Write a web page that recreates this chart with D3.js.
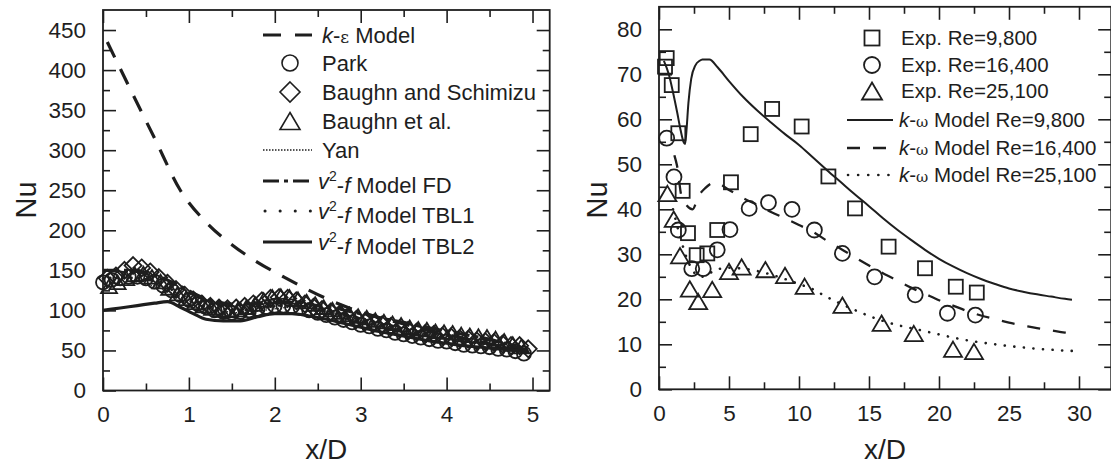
<!DOCTYPE html>
<html><head><meta charset="utf-8">
<script src="https://cdn.jsdelivr.net/npm/d3@7"></script>
<style>
body{margin:0;background:#fff}
svg text{font-family:"Liberation Sans",Arial,sans-serif;fill:#1e1e1e}
</style></head><body>
<svg id="c" width="1111" height="466"></svg>
<script>
// ---------------- LEFT CHART DATA ----------------
const keX = [0.05,0.3,0.6,0.9,1.2,1.5,1.8,2.1,2.4,2.7,3.0,3.5,4.0,4.5,4.9];
const keY = [435,380,315,250,210,182,160,142,125,110,98,83,70,58,50];

const parkX = [0,0.1,0.2,0.3,0.4,0.5,0.6,0.7,0.8,0.9,1.0,1.1,1.2,1.3,1.4,1.5,1.6,1.7,1.8,1.9,2.0,2.1,2.2,2.3,2.4,2.5,2.6,2.7,2.8,2.9,3.0,3.1,3.2,3.3,3.4,3.5,3.6,3.7,3.8,3.9,4.0,4.1,4.2,4.3,4.4,4.5,4.6,4.7,4.8,4.9];
const parkY = [135,138,140,142,142,140,136,131,125,119,113,108,104,100,98,97,98,100,102,104,106,106,105,103,100,97,94,91,88,85,82,80,77,75,72,70,68,66,64,62,61,59,57,56,55,54,52,51,49,46];

const bsX = [0.05,0.15,0.25,0.35,0.45,0.55,0.65,0.75,0.85,0.95,1.05,1.15,1.25,1.35,1.45,1.55,1.65,1.75,1.85,1.95,2.05,2.15,2.25,2.35,2.45,2.55,2.65,2.75,2.85,2.95,3.05,3.15,3.25,3.35,3.45,3.55,3.65,3.75,3.85,3.95,4.05,4.15,4.25,4.35,4.45,4.55,4.65,4.75,4.85,4.95];
const bsY = [140,143,150,156,153,148,141,134,126,119,113,108,105,103,102,103,105,108,112,115,116,115,112,108,104,101,98,95,92,89,86,84,82,80,77,75,73,71,70,68,67,65,64,62,61,60,58,56,56,52];

const beX = [0.07,0.17,0.27,0.37,0.47,0.57,0.67,0.77,0.87,0.97,1.07,1.17,1.27,1.37,1.47,1.57,1.67,1.77,1.87,1.97,2.07,2.17,2.27,2.37,2.47,2.57,2.67,2.77,2.87,2.97,3.07,3.17,3.27,3.37,3.47,3.57,3.67,3.77,3.87,3.97,4.07,4.17,4.27,4.37,4.47,4.57,4.67,4.77,4.87];
const beY = [130,135,140,145,146,142,136,128,121,115,110,106,103,101,100,101,104,108,113,117,118,117,114,111,108,104,101,98,95,93,91,88,86,84,82,79,77,76,74,73,72,70,69,68,67,65,62,58,55];

const yanX = [0,0.2,0.4,0.6,0.8,1.0,1.2,1.4,1.6,1.8,2.0,2.2,2.4,2.6,2.8,3.0,3.2,3.4,3.6,3.8,4.0,4.2,4.4,4.6,4.8,4.95];
const yanY = [128,132,134,130,122,112,104,99,97,99,102,104,103,99,94,88,83,78,74,70,66,62,58,55,52,49];

const fdX = [0,0.3,0.5,0.7,0.9,1.1,1.3,1.5,1.7,1.9,2.1,2.3,2.5,2.7,2.9,3.1,3.3,3.5,3.7,3.9,4.1,4.3,4.5,4.7,4.95];
const fdY = [150,150,146,140,130,119,111,108,108,109,110,109,106,103,98,94,89,85,80,76,72,68,64,58,50];

const tbl1X = [0,0.2,0.4,0.6,0.8,1.0,1.2,1.4,1.6,1.8,2.0,2.2,2.4,2.6,2.8,3.0,3.2,3.4,3.6,3.8,4.0,4.2,4.4,4.6,4.8,4.95];
const tbl1Y = [140,141,140,136,126,115,106,101,100,102,105,106,104,100,95,90,85,80,76,72,68,64,60,56,52,49];

const tbl2X = [0,0.2,0.4,0.6,0.75,0.9,1.05,1.2,1.4,1.6,1.8,2.0,2.2,2.4,2.6,2.8,3.0,3.2,3.4,3.6,3.8,4.0,4.2,4.4,4.6,4.8,4.95];
const tbl2Y = [100,103,106,109,111,104,96,89,87,87,92,96,96,93,89,84,79,74,70,66,62,59,56,54,52,50,48];

const leftXTicks = [0,1,2,3,4,5];
const leftXMinor = [0.5,1.5,2.5,3.5,4.5];
const leftYTicks = [0,50,100,150,200,250,300,350,400,450];
const leftYMinor = [25,75,125,175,225,275,325,375,425];

// ---------------- RIGHT CHART DATA ----------------
const sqX = [0.43,0.55,0.91,1.38,1.69,2.07,2.69,3.45,4.16,5.14,6.55,8.08,10.19,12.1,14.0,16.4,19.0,21.2,22.7];
const sqY = [71.7,73.6,67.6,56.9,44.1,34.7,29.8,30.2,35.4,46.0,56.7,62.3,58.4,47.3,40.2,31.7,26.9,22.8,21.5];

const ciX = [0.55,1.07,1.38,2.34,3.16,4.16,5.07,6.44,7.82,9.5,11.1,13.1,15.4,18.3,20.6,22.6];
const ciY = [55.8,47.2,35.4,26.8,26.8,31.0,35.5,40.2,41.5,40.0,35.4,30.2,25.0,21.0,16.9,16.5];

const trX = [0.6,1.05,1.5,2.2,2.8,3.8,5.0,5.9,7.6,9.0,10.4,13.1,15.9,18.2,21.0,22.5];
const trY = [43.5,37.8,29.7,22.3,19.5,22.2,26.2,27.2,26.6,25.3,22.9,18.7,14.7,12.4,8.9,8.4];

const kw98X = [0.35,0.7,1.0,1.3,1.55,1.75,1.86,1.95,2.1,2.3,2.6,2.9,3.1,3.6,4.2,5,6,7,8,9,10,11,12,13,14,15,16,17,18,19,20,21,22,23,24,25,26,27,28,29,29.5];
const kw98Y = [73,70,66,61.5,57.5,55,54.5,57,63.6,69,72,73,73.3,73.3,71.5,68.5,65,62,59.3,56.7,54.3,51.5,48.7,46,43.3,40.7,38,35.5,33.2,31,29,27.3,25.8,24.5,23.4,22.4,21.7,21.1,20.6,20.1,19.9];

const kw164X = [1.1,1.3,1.6,2.0,2.4,2.8,3.3,4.0,5,6,7,8,9,10,11,12,13,14,15,16,17,18,19,20,21,22,23,24,25,26,27,28,29,29.7];
const kw164Y = [52,49.5,43,40.8,40,42.8,44.7,46,44.3,42.5,41,39.4,38,36.5,35,33,31.2,29.3,27.5,25.8,24.2,22.6,21.2,19.8,18.6,17.4,16.4,15.6,14.8,14.2,13.6,13.1,12.6,12.4];

const kw251X = [1.0,1.5,2.0,2.5,3.0,3.5,4.0,5,6,7,8,9,10,11,12,13,14,15,16,17,18,19,20,21,22,23,24,25,26,27,28,29,29.7];
const kw251Y = [40,34,29,26,25,25.5,26.5,27,26.8,26.3,25.5,24.5,23.4,22.2,20.5,19,17.6,16.3,15.2,14.3,13.6,12.9,12.2,11.5,10.9,10.4,10,9.6,9.3,9,8.8,8.6,8.5];

const rightXTicks = [0,5,10,15,20,25,30];
const rightXMinor = [2.5,7.5,12.5,17.5,22.5,27.5];
const rightYTicks = [0,10,20,30,40,50,60,70,80];
const rightYMinor = [5,15,25,35,45,55,65,75];

// ---------------- DRAWING ----------------
const svg = d3.select('#c');
const INK = '#1e1e1e';

const xL = d3.scaleLinear([0,5.2],[103,549.7]);
const yL = d3.scaleLinear([0,475],[390.5,10]);
const xR = d3.scaleLinear([0,32.3],[659,1111.2]);
const yR = d3.scaleLinear([0,85],[389.3,6.8]);

function frame(x, y, xMaj, xMin, yMaj, yMin){
  const [x0,x1] = x.range(), [yb,yt] = y.range();
  const g = svg.append('g');
  const style = s => { s.select('.domain').remove(); s.selectAll('line').attr('stroke',INK).attr('stroke-width',1.6); s.selectAll('text').attr('font-size',22.5).attr('fill',INK).attr('font-family','"Liberation Sans",Arial,sans-serif'); };
  g.append('g').attr('transform',`translate(0,${yb})`).call(d3.axisBottom(x).tickValues(xMaj).tickSize(-13).tickPadding(16).tickFormat(d3.format('d'))).call(style);
  g.append('g').attr('transform',`translate(0,${yb})`).call(d3.axisBottom(x).tickValues(xMin).tickSize(-7).tickFormat('')).call(style);
  g.append('g').attr('transform',`translate(0,${yt})`).call(d3.axisTop(x).tickValues(xMaj).tickSize(-13).tickFormat('')).call(style);
  g.append('g').attr('transform',`translate(0,${yt})`).call(d3.axisTop(x).tickValues(xMin).tickSize(-7).tickFormat('')).call(style);
  g.append('g').attr('transform',`translate(${x0},0)`).call(d3.axisLeft(y).tickValues(yMaj).tickSize(-13).tickPadding(17).tickFormat(d3.format('d'))).call(style);
  g.append('g').attr('transform',`translate(${x0},0)`).call(d3.axisLeft(y).tickValues(yMin).tickSize(-7).tickFormat('')).call(style);
  g.append('g').attr('transform',`translate(${x1},0)`).call(d3.axisRight(y).tickValues(yMaj).tickSize(-13).tickFormat('')).call(style);
  g.append('g').attr('transform',`translate(${x1},0)`).call(d3.axisRight(y).tickValues(yMin).tickSize(-7).tickFormat('')).call(style);
  g.append('rect').attr('x',x0).attr('y',yt).attr('width',x1-x0).attr('height',yb-yt)
    .attr('fill','none').attr('stroke',INK).attr('stroke-width',1.8);
}

function line(x, y, xs, ys, opts){
  const pts = xs.map((v,i)=>[v,ys[i]]);
  const gen = d3.line().x(d=>x(d[0])).y(d=>y(d[1])).curve(d3.curveMonotoneX);
  svg.append('path').attr('d',gen(pts)).attr('fill','none').attr('stroke',INK)
    .attr('stroke-width',opts.w).attr('stroke-dasharray',opts.dash||null)
    .attr('stroke-linecap',opts.cap||'butt');
}

function marker(g, type, cx, cy, s, sw){
  if(type==='circle'){
    g.append('circle').attr('cx',cx).attr('cy',cy).attr('r',s/2);
  } else if(type==='diamond'){
    const h = s/2;
    g.append('path').attr('d',`M${cx},${cy-h}L${cx+h},${cy}L${cx},${cy+h}L${cx-h},${cy}Z`);
  } else if(type==='triangle'){
    const w = s/2, h = s*0.85/2;
    g.append('path').attr('d',`M${cx},${cy-h}L${cx+w},${cy+h}L${cx-w},${cy+h}Z`);
  } else if(type==='square'){
    g.append('rect').attr('x',cx-s/2).attr('y',cy-s/2).attr('width',s).attr('height',s);
  }
  g.attr('fill','none').attr('stroke',INK).attr('stroke-width',sw);
}

function markers(x, y, xs, ys, type, s, sw){
  const g = svg.append('g');
  xs.forEach((v,i)=>marker(g,type,x(v),y(ys[i]),s,sw));
}

// ---- left chart ----
frame(xL, yL, leftXTicks, leftXMinor, leftYTicks, leftYMinor);
line(xL,yL,keX,keY,{w:3.2,dash:'17,13'});
line(xL,yL,yanX,yanY,{w:1.3,dash:'1.5,1.5'});
line(xL,yL,tbl1X,tbl1Y,{w:2.8,dash:'0.1,7',cap:'round'});
markers(xL,yL,parkX,parkY,'circle',14,1.8);
markers(xL,yL,bsX,bsY,'diamond',17,1.8);
markers(xL,yL,beX,beY,'triangle',16,1.8);
line(xL,yL,fdX,fdY,{w:3.2,dash:'16,5,4,5'});
line(xL,yL,tbl2X,tbl2Y,{w:3.2});

// left legend
const legL = svg.append('g');
const rowsL = [35,63,92,121,150,181,211,242];
const lx0 = 263, lx1 = 312, ltx = 322;
function lgLine(g, y, x0, x1, opts){
  g.append('line').attr('x1',x0).attr('x2',x1).attr('y1',y).attr('y2',y).attr('stroke',INK)
   .attr('stroke-width',opts.w).attr('stroke-dasharray',opts.dash||null).attr('stroke-linecap',opts.cap||'butt');
}
function lgText(g, y, x, parts, fs){
  const t = g.append('text').attr('x',x).attr('y',y).attr('dy','0.36em').attr('font-size',fs);
  parts.forEach(p=>{
    const s = t.append('tspan').text(p.t);
    if(p.i) s.attr('font-style','italic');
    if(p.f) s.attr('font-family',p.f);
    if(p.fs) s.attr('font-size',p.fs);
    if(p.dy) s.attr('dy',p.dy);
  });
}
lgLine(legL,rowsL[0],lx0,lx1,{w:3.2,dash:'18,14'});
lgText(legL,rowsL[0],ltx,[{t:'k',i:1},{t:'-'},{t:'ε',f:'"DejaVu Serif",serif',fs:17},{t:' Model'}],22);
marker(legL.append('g'),'circle',290,rowsL[1],16,1.6);
lgText(legL,rowsL[1],ltx,[{t:'Park'}],22);
marker(legL.append('g'),'diamond',290,rowsL[2],20,1.6);
lgText(legL,rowsL[2],ltx,[{t:'Baughn and Schimizu'}],22);
marker(legL.append('g'),'triangle',290,rowsL[3],20,1.6);
lgText(legL,rowsL[3],ltx,[{t:'Baughn et al.'}],22);
lgLine(legL,rowsL[4],lx0,lx1,{w:1.3,dash:'1.5,1.5'});
lgText(legL,rowsL[4],ltx,[{t:'Yan'}],22);
const v2 = tail => [{t:'v',i:1},{t:'2',fs:14,dy:'-0.55em'},{t:'-',dy:'0.55em'},{t:'f',i:1},{t:' Model '+tail}];
lgLine(legL,rowsL[5],lx0,lx1,{w:3,dash:'16,5,4,5'});
lgText(legL,rowsL[5],ltx-4,v2('FD'),22);
lgLine(legL,rowsL[6],lx0+2,lx1,{w:3,dash:'0.1,15',cap:'round'});
lgText(legL,rowsL[6],ltx-4,v2('TBL1'),22);
lgLine(legL,rowsL[7],lx0,lx1,{w:3});
lgText(legL,rowsL[7],ltx-4,v2('TBL2'),22);

// axis titles left
svg.append('text').attr('x',(103+549.7)/2).attr('y',459).attr('text-anchor','middle').attr('font-size',28).text('x/D');
svg.append('text').attr('transform','translate(36,200) rotate(-90)').attr('text-anchor','middle').attr('font-size',29).text('Nu');

// ---- right chart ----
frame(xR, yR, rightXTicks, rightXMinor, rightYTicks, rightYMinor);
line(xR,yR,kw98X,kw98Y,{w:2});
line(xR,yR,kw164X,kw164Y,{w:2.3,dash:'13,13'});
line(xR,yR,kw251X,kw251Y,{w:2.6,dash:'0.1,9.5',cap:'round'});
markers(xR,yR,sqX,sqY,'square',14,1.8);
markers(xR,yR,ciX,ciY,'circle',15,1.8);
markers(xR,yR,trX,trY,'triangle',18,1.8);

const legR = svg.append('g');
const rowsR = [38,65,91,120,148,175];
const rmx = 872, rtx = 901;
marker(legR.append('g'),'square',rmx,rowsR[0],15,1.8);
lgText(legR,rowsR[0],rtx,[{t:'Exp. Re=9,800'}],20.5);
marker(legR.append('g'),'circle',rmx,rowsR[1],16,1.8);
lgText(legR,rowsR[1],rtx,[{t:'Exp. Re=16,400'}],20.5);
marker(legR.append('g'),'triangle',rmx,rowsR[2],20,1.8);
lgText(legR,rowsR[2],rtx,[{t:'Exp. Re=25,100'}],20.5);
const kw = tail => [{t:'k',i:1},{t:'-'},{t:'ω',f:'"DejaVu Serif",serif',fs:15},{t:' Model Re='+tail}];
lgLine(legR,rowsR[3],847,893,{w:2});
lgText(legR,rowsR[3],rtx-2,kw('9,800'),20.5);
lgLine(legR,rowsR[4],847,886,{w:2.3,dash:'13,13'});
lgText(legR,rowsR[4],rtx-2,kw('16,400'),20.5);
lgLine(legR,rowsR[5],848,893,{w:2.6,dash:'0.1,10',cap:'round'});
lgText(legR,rowsR[5],rtx-2,kw('25,100'),20.5);

svg.append('text').attr('x',(659+1111)/2).attr('y',459).attr('text-anchor','middle').attr('font-size',28).text('x/D');
svg.append('text').attr('transform','translate(607,200) rotate(-90)').attr('text-anchor','middle').attr('font-size',29).text('Nu');
</script>
</body></html>
